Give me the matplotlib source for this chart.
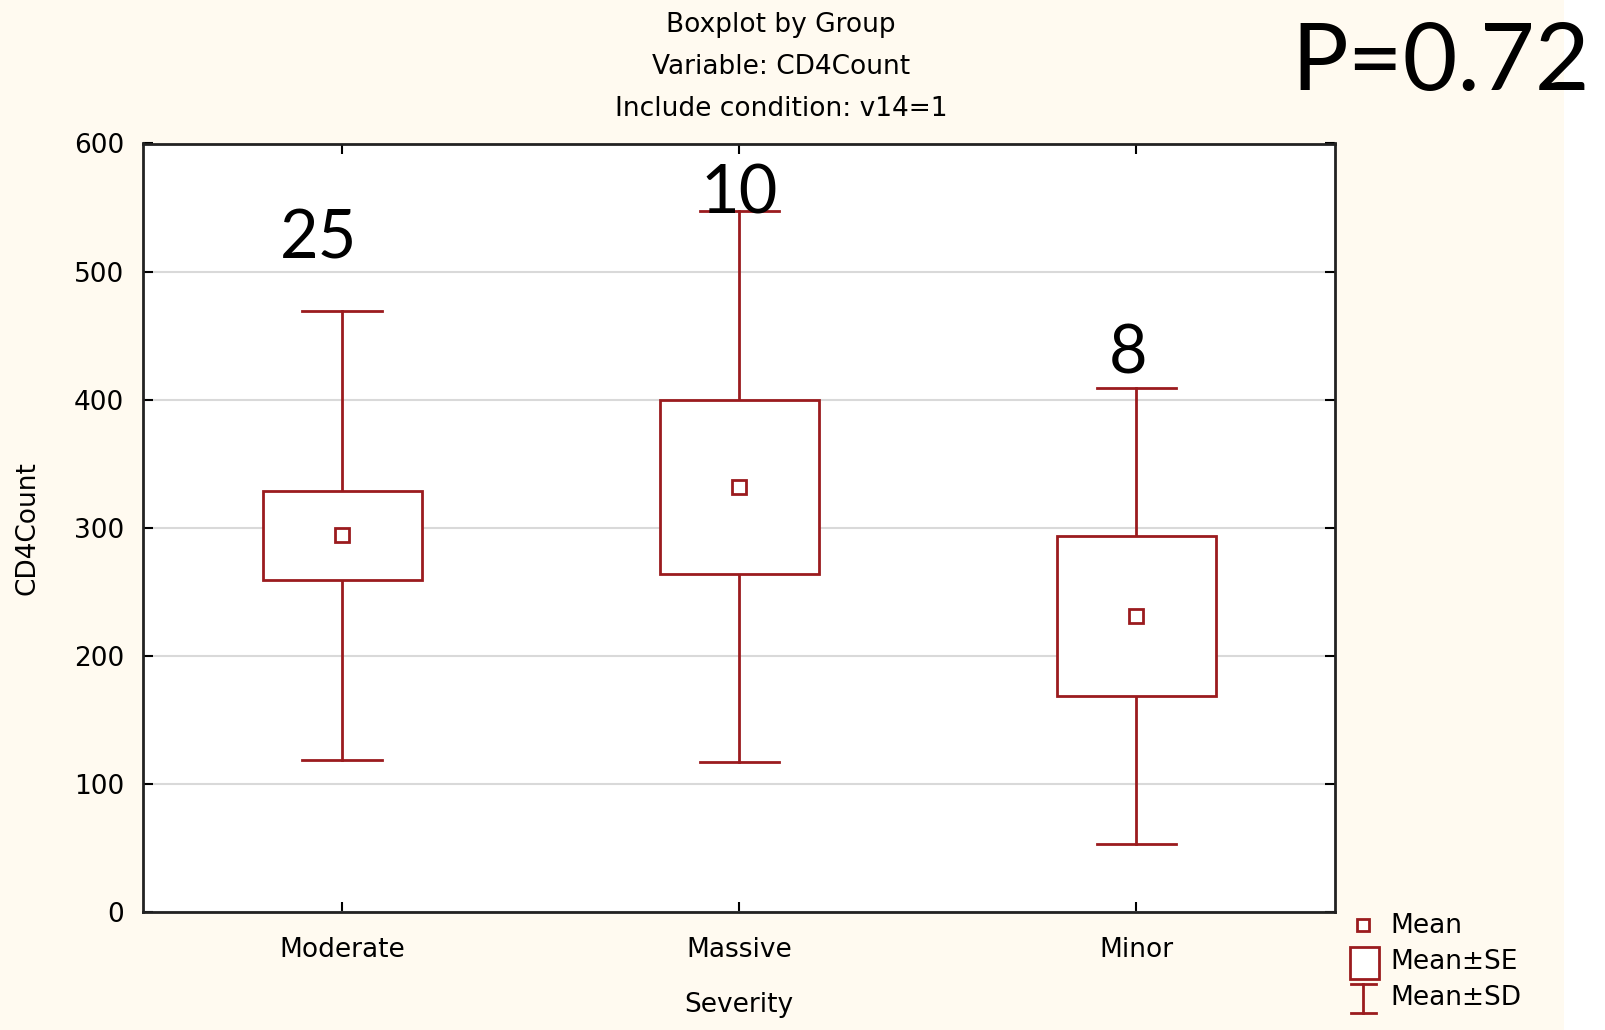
import matplotlib.pyplot as plt
import numpy as np
from matplotlib.patches import Rectangle

# date
groups = ['Moderate', 'Massive', 'Minor']
means = [294, 332, 231]
se = [34.5, 68, 62.5]
sd = [175, 215, 178]
n_labels = ['25', '10', '8']
n_label_y = [525, 560, 435]
n_label_dx = [-0.06, 0.0, -0.02]
p_text = 'P=0.72'
legend_labels = ['Mean', 'Mean±SE', 'Mean±SD']

red = '#9B1B1E'
cream = '#FFFAF0'
fs = 19

fig = plt.figure(figsize=(16.06, 10.30), dpi=100, facecolor=cream)
# banda alba in dreapta
fig.patches.append(Rectangle((1564 / 1606, 0), 1 - 1564 / 1606, 1,
                             transform=fig.transFigure, facecolor='white',
                             edgecolor='none', zorder=-1))

ax = fig.add_axes([143.5 / 1606, 1 - 912 / 1030, (1335 - 143.5) / 1606, (912 - 143.5) / 1030])
ax.set_facecolor('white')

x = np.arange(1, len(groups) + 1)
box_w = 0.4
cap_w = 0.2

for xi, m, s, d in zip(x, means, se, sd):
    # whisker Mean±SD
    ax.plot([xi, xi], [m + s, m + d], color=red, lw=2, zorder=3)
    ax.plot([xi, xi], [m - d, m - s], color=red, lw=2, zorder=3)
    ax.plot([xi - cap_w / 2, xi + cap_w / 2], [m + d, m + d], color=red, lw=2, zorder=3)
    ax.plot([xi - cap_w / 2, xi + cap_w / 2], [m - d, m - d], color=red, lw=2, zorder=3)
    # cutie Mean±SE
    ax.add_patch(Rectangle((xi - box_w / 2, m - s), box_w, 2 * s, facecolor='white',
                           edgecolor=red, lw=2, zorder=3))
    # media
    ax.plot([xi], [m], marker='s', ms=10, mfc='white', mec=red, mew=2, ls='', zorder=4)

for xi, lab, ly, dx in zip(x, n_labels, n_label_y, n_label_dx):
    ax.text(xi + dx, ly, lab, ha='center', va='center', fontsize=48, family='Lato', zorder=5)

ax.set_xlim(0.5, 3.5)
ax.set_ylim(0, 600)
ax.set_yticks(range(0, 601, 100))
ax.set_xticks(x)
ax.set_xticklabels(groups)
ax.yaxis.grid(True, color='#D9D9D9', lw=1.5)
ax.set_axisbelow(True)
ax.tick_params(direction='in', length=7, width=1.5, top=True, right=True, labelsize=fs)
ax.tick_params(axis='y', pad=14)
ax.tick_params(axis='x', pad=18)
for sp in ax.spines.values():
    sp.set_linewidth(2)
    sp.set_color('#222222')

ax.set_ylabel('CD4Count', fontsize=fs, labelpad=24)
ax.set_xlabel('Severity', fontsize=fs, labelpad=21)

# titlu
fig.text(781 / 1606, 1 - 25 / 1030, 'Boxplot by Group', ha='center', va='center', fontsize=fs)
fig.text(781 / 1606, 1 - 67 / 1030, 'Variable: CD4Count', ha='center', va='center', fontsize=fs)
fig.text(781 / 1606, 1 - 109 / 1030, 'Include condition: v14=1', ha='center', va='center', fontsize=fs)

fig.text(1590 / 1606, 1 - 64 / 1030, p_text, ha='right', va='center', fontsize=68, family='Lato')

# legenda desenata manual (coordonate in pixeli ai figurii)
lax = fig.add_axes([1330 / 1606, 0, 270 / 1606, 125 / 1030])
lax.set_xlim(1330, 1600)
lax.set_ylim(1030, 905)
lax.axis('off')
lax.plot([1363], [925], marker='s', ms=8, mfc='white', mec=red, mew=2, ls='')
lax.add_patch(Rectangle((1350, 947), 29, 32, facecolor='white', edgecolor=red, lw=2))
lax.plot([1363, 1363], [984, 1013], color=red, lw=2)
lax.plot([1351, 1376], [984, 984], color=red, lw=2)
lax.plot([1351, 1376], [1013, 1013], color=red, lw=2)
for ty, lab in zip([926, 962, 998], legend_labels):
    lax.text(1390, ty, lab, ha='left', va='center', fontsize=fs)

plt.savefig('out.png', dpi=100, facecolor=cream)
